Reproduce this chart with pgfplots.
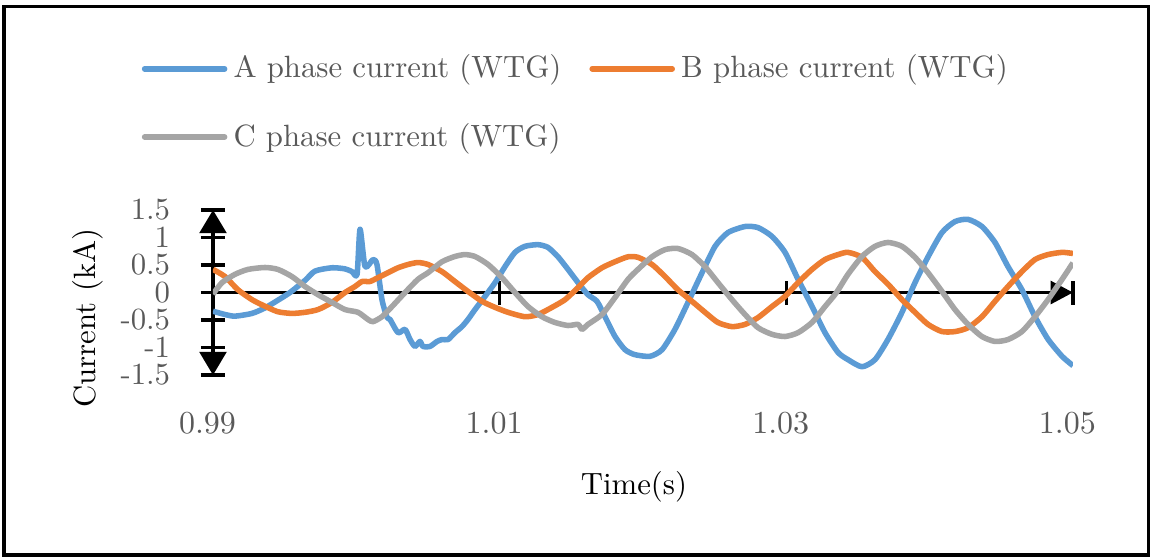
\documentclass[border=0pt]{standalone}
\usepackage{pgfplots}
\pgfplotsset{compat=1.18}
\usetikzlibrary{arrows.meta}
\definecolor{cA}{HTML}{5B9BD5}
\definecolor{cB}{HTML}{ED7D31}
\definecolor{cC}{HTML}{A5A5A5}
\definecolor{txt}{HTML}{595959}
\pgfplotstableread{
t v
0.99000 -0.34
0.99084 -0.40
0.99153 -0.43
0.99272 -0.38
0.99363 -0.28
0.99453 -0.14
0.99537 0.00
0.99642 0.22
0.99712 0.39
0.99830 0.45
0.99921 0.43
0.99970 0.38
1.00005 0.33
1.00026 1.15
1.00061 0.47
1.00116 0.60
1.00144 0.51
1.00179 -0.13
1.00214 -0.45
1.00235 -0.49
1.00291 -0.73
1.00340 -0.67
1.00374 -0.85
1.00409 -0.98
1.00444 -0.89
1.00465 -0.98
1.00514 -0.98
1.00563 -0.89
1.00598 -0.855
1.00640 -0.855
1.00688 -0.73
1.00737 -0.62
1.00779 -0.49
1.00828 -0.31
1.00898 -0.07
1.00968 0.18
1.01037 0.47
1.01107 0.73
1.01177 0.84
1.01268 0.87
1.01337 0.82
1.01407 0.65
1.01477 0.42
1.01547 0.18
1.01616 -0.04
1.01679 -0.16
1.01735 -0.44
1.01805 -0.80
1.01875 -1.04
1.01944 -1.13
1.02049 -1.16
1.02133 -1.04
1.02223 -0.67
1.02314 -0.18
1.02412 0.36
1.02503 0.84
1.02593 1.09
1.02712 1.20
1.02803 1.18
1.02900 1.02
1.02991 0.73
1.03082 0.24
1.03179 -0.25
1.03270 -0.73
1.03361 -1.09
1.03430 -1.22
1.03528 -1.35
1.03619 -1.22
1.03710 -0.85
1.03807 -0.36
1.03898 0.18
1.03989 0.65
1.04086 1.09
1.04177 1.29
1.04268 1.33
1.04365 1.20
1.04456 0.91
1.04547 0.47
1.04644 0.05
1.04735 -0.44
1.04826 -0.85
1.04924 -1.16
1.05000 -1.33
}\dataA
\pgfplotstableread{
t v
0.99000 0.42
0.99084 0.29
0.99174 0.05
0.99272 -0.13
0.99363 -0.25
0.99453 -0.35
0.99551 -0.38
0.99642 -0.36
0.99733 -0.31
0.99830 -0.18
0.99921 0.00
0.99991 0.11
1.00040 0.20
1.00095 0.20
1.00151 0.27
1.00221 0.36
1.00291 0.45
1.00361 0.51
1.00430 0.545
1.00500 0.51
1.00598 0.38
1.00688 0.20
1.00779 0.02
1.00877 -0.16
1.00968 -0.27
1.01058 -0.36
1.01177 -0.44
1.01268 -0.40
1.01365 -0.27
1.01456 -0.13
1.01547 0.09
1.01616 0.27
1.01714 0.45
1.01805 0.56
1.01896 0.65
1.01965 0.64
1.02063 0.51
1.02154 0.29
1.02244 0.05
1.02342 -0.16
1.02433 -0.36
1.02523 -0.545
1.02621 -0.62
1.02712 -0.58
1.02803 -0.455
1.02900 -0.255
1.02991 -0.07
1.03082 0.18
1.03179 0.42
1.03270 0.60
1.03361 0.69
1.03430 0.73
1.03528 0.64
1.03619 0.38
1.03710 0.15
1.03807 -0.13
1.03898 -0.36
1.03989 -0.58
1.04086 -0.71
1.04177 -0.71
1.04268 -0.64
1.04365 -0.44
1.04456 -0.16
1.04547 0.11
1.04644 0.38
1.04735 0.60
1.04826 0.69
1.04924 0.73
1.05000 0.71
}\dataB
\pgfplotstableread{
t v
0.99000 -0.03
0.99063 0.18
0.99153 0.33
0.99244 0.42
0.99363 0.455
0.99453 0.42
0.99551 0.29
0.99642 0.11
0.99733 -0.04
0.99830 -0.18
0.99921 -0.31
1.00012 -0.36
1.00081 -0.49
1.00116 -0.53
1.00179 -0.44
1.00249 -0.255
1.00340 0.00
1.00430 0.24
1.00500 0.36
1.00598 0.56
1.00688 0.655
1.00758 0.69
1.00828 0.655
1.00919 0.51
1.01016 0.27
1.01107 0.00
1.01198 -0.255
1.01295 -0.44
1.01386 -0.545
1.01477 -0.60
1.01547 -0.58
1.01575 -0.67
1.01616 -0.58
1.01714 -0.40
1.01805 -0.09
1.01896 0.24
1.01965 0.42
1.02063 0.65
1.02154 0.78
1.02244 0.80
1.02342 0.69
1.02433 0.47
1.02523 0.18
1.02621 -0.13
1.02712 -0.40
1.02803 -0.64
1.02900 -0.76
1.02991 -0.80
1.03082 -0.73
1.03179 -0.545
1.03270 -0.255
1.03350 0.00
1.03430 0.33
1.03528 0.655
1.03619 0.84
1.03710 0.91
1.03807 0.84
1.03898 0.64
1.03989 0.36
1.04086 0.02
1.04177 -0.31
1.04268 -0.58
1.04365 -0.80
1.04456 -0.89
1.04547 -0.855
1.04644 -0.71
1.04735 -0.44
1.04826 -0.13
1.04924 0.24
1.05000 0.54
}\dataC
\begin{document}
\begin{tikzpicture}
\useasboundingbox (0,0) rectangle (374.725pt,181.675pt);
\draw[line width=1pt] (1.3pt,1.3pt) rectangle (373.4pt,179.7pt);
\begin{axis}[
  at={(69.225pt,59.8pt)}, anchor=south west,
  width=279.5pt, height=53.625pt, scale only axis,
  xmin=0.99, xmax=1.05, ymin=-1.5, ymax=1.5,
  axis x line*=middle, axis y line*=left,
  hide obscured x ticks=false, hide obscured y ticks=false,
  x axis line style={line width=1pt, -{Triangle[length=7.3pt,width=7.5pt]}},
  y axis line style={line width=1pt, {Triangle[length=7.5pt,width=8.7pt]}-{Triangle[length=7.5pt,width=8.7pt]}},
  xtick={0.99,1.01,1.03,1.05}, xticklabels={0.99,1.01,1.03,1.05},
  ytick={-1.5,-1,-0.5,0,0.5,1,1.5}, yticklabels={-1.5,-1,-0.5,0,0.5,1,1.5},
  tick align=center, major tick length=7.8pt,
  major tick style={line width=1pt, black},
  xticklabel style={text=txt, anchor=center, yshift=-38.7pt, xshift=-1.8pt, font=\fontsize{10.4}{12}\selectfont},
  yticklabel style={text=txt, anchor=east, xshift=-6.5pt},
  xlabel={Time(s)}, ylabel={Current (kA)},
  xlabel style={at={(axis description cs:0.4895,-0.679)}, anchor=center},
  ylabel style={at={(axis description cs:-0.1453,0.345)}, anchor=center},
  legend columns=2,
  legend style={at={(axis description cs:-0.0942,2.0185)}, anchor=north west, draw=none, fill=none,
    text=txt, row sep=9.2pt, /tikz/every even column/.append style={column sep=7.1pt}},
  legend cell align=left,
  legend image code/.code={\draw[#1, line width=1.8pt, line cap=round] (0pt,0pt) -- (26pt,0pt);},
  every axis plot/.append style={line width=1.8pt, line join=round, smooth, tension=0.4},
]
\addplot[cA] table {\dataA};
\addlegendentry{A phase current (WTG)}
\addplot[cB] table {\dataB};
\addlegendentry{B phase current (WTG)}
\addplot[cC] table {\dataC};
\addlegendentry{C phase current (WTG)}
\end{axis}
\end{tikzpicture}
\end{document}
